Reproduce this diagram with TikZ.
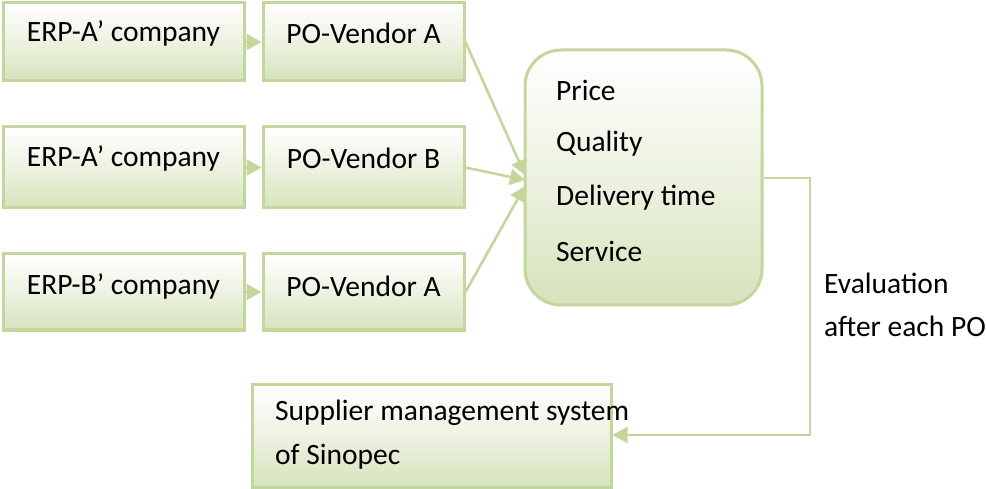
\documentclass[tikz,border=0pt]{standalone}
\usepackage{fontspec}
\setmainfont{Carlito}
\usetikzlibrary{arrows.meta,positioning}
\definecolor{edge}{RGB}{195,214,155}
\definecolor{fillbot}{RGB}{214,227,188}
\tikzset{
  box/.style={draw=edge, line width=3pt, top color=white, bottom color=fillbot, middle color=white!55!fillbot, inner sep=0pt},
  rbox/.style={box, rounded corners=36pt},
  conn/.style={draw=edge, line width=2.6pt, -{Triangle[length=15pt,width=16pt]}},
  txt/.style={font=\fontsize{29.5}{34}\selectfont, inner sep=0pt, anchor=west},
}
\begin{document}
\begin{tikzpicture}[x=1pt,y=-1pt]
\useasboundingbox (0,0) rectangle (986,489);
% row boxes
\node[box, minimum width=241pt, minimum height=78pt] (a1) at (123.5,42) {};
\node[box, minimum width=201pt, minimum height=78pt] (b1) at (363.5,42) {};
\node[box, minimum width=241pt, minimum height=81pt] (a2) at (123.5,167.5) {};
\node[box, minimum width=201pt, minimum height=81pt] (b2) at (363.5,167.5) {};
\node[box, minimum width=241pt, minimum height=76pt] (a3) at (123.5,292) {};
\node[box, minimum width=201pt, minimum height=76pt] (b3) at (363.5,292) {};
\node[rbox, minimum width=237pt, minimum height=255pt] (c) at (643.5,177.5) {};
\node[box, minimum width=359pt, minimum height=103pt] (s) at (431.5,435.5) {};
% texts
\node[txt, anchor=center] (ta1) at (123.5,33) {ERP-A’ company};
\node[txt, anchor=center] (tb1) at (363.5,33) {PO-Vendor A};
\node[txt, anchor=center] (ta2) at (123.5,158) {ERP-A’ company};
\node[txt, anchor=center] (tb2) at (363.5,158) {PO-Vendor B};
\node[txt, anchor=center] (ta3) at (123.5,286) {ERP-B’ company};
\node[txt, anchor=center] (tb3) at (363.5,286) {PO-Vendor A};
\node[txt] (p1) at (556,90) {Price};
\node[txt] (p2) at (556,144) {Quality};
\node[txt] (p3) at (556,198) {Delivery time};
\node[txt] (p4) at (556,251) {Service};
\node[txt] (s1) at (275,413) {Supplier management system};
\node[txt] (s2) at (275,457) {of Sinopec};
\node[txt] (e1) at (824,283) {Evaluation};
\node[txt] (e2) at (824,326) {after each PO};
% connectors
\coordinate (t1) at (525,175);
\coordinate (t2) at (525,180);
\coordinate (t3) at (525,186);
\coordinate (r1) at (810,178);
\coordinate (r2) at (810,435);
\draw[conn] (a1.east) -- (b1.west);
\draw[conn] (a2.east) -- (b2.west);
\draw[conn] (a3.east) -- (b3.west);
\draw[conn] (b1.east) -- (t1);
\draw[conn] (b2.east) -- (t2);
\draw[conn] (b3.east) -- (t3);
\draw[conn, line width=2.2pt] (c.east |- r1) -- (r1) -- (r2) -- (s.east |- r2);
\end{tikzpicture}
\end{document}
